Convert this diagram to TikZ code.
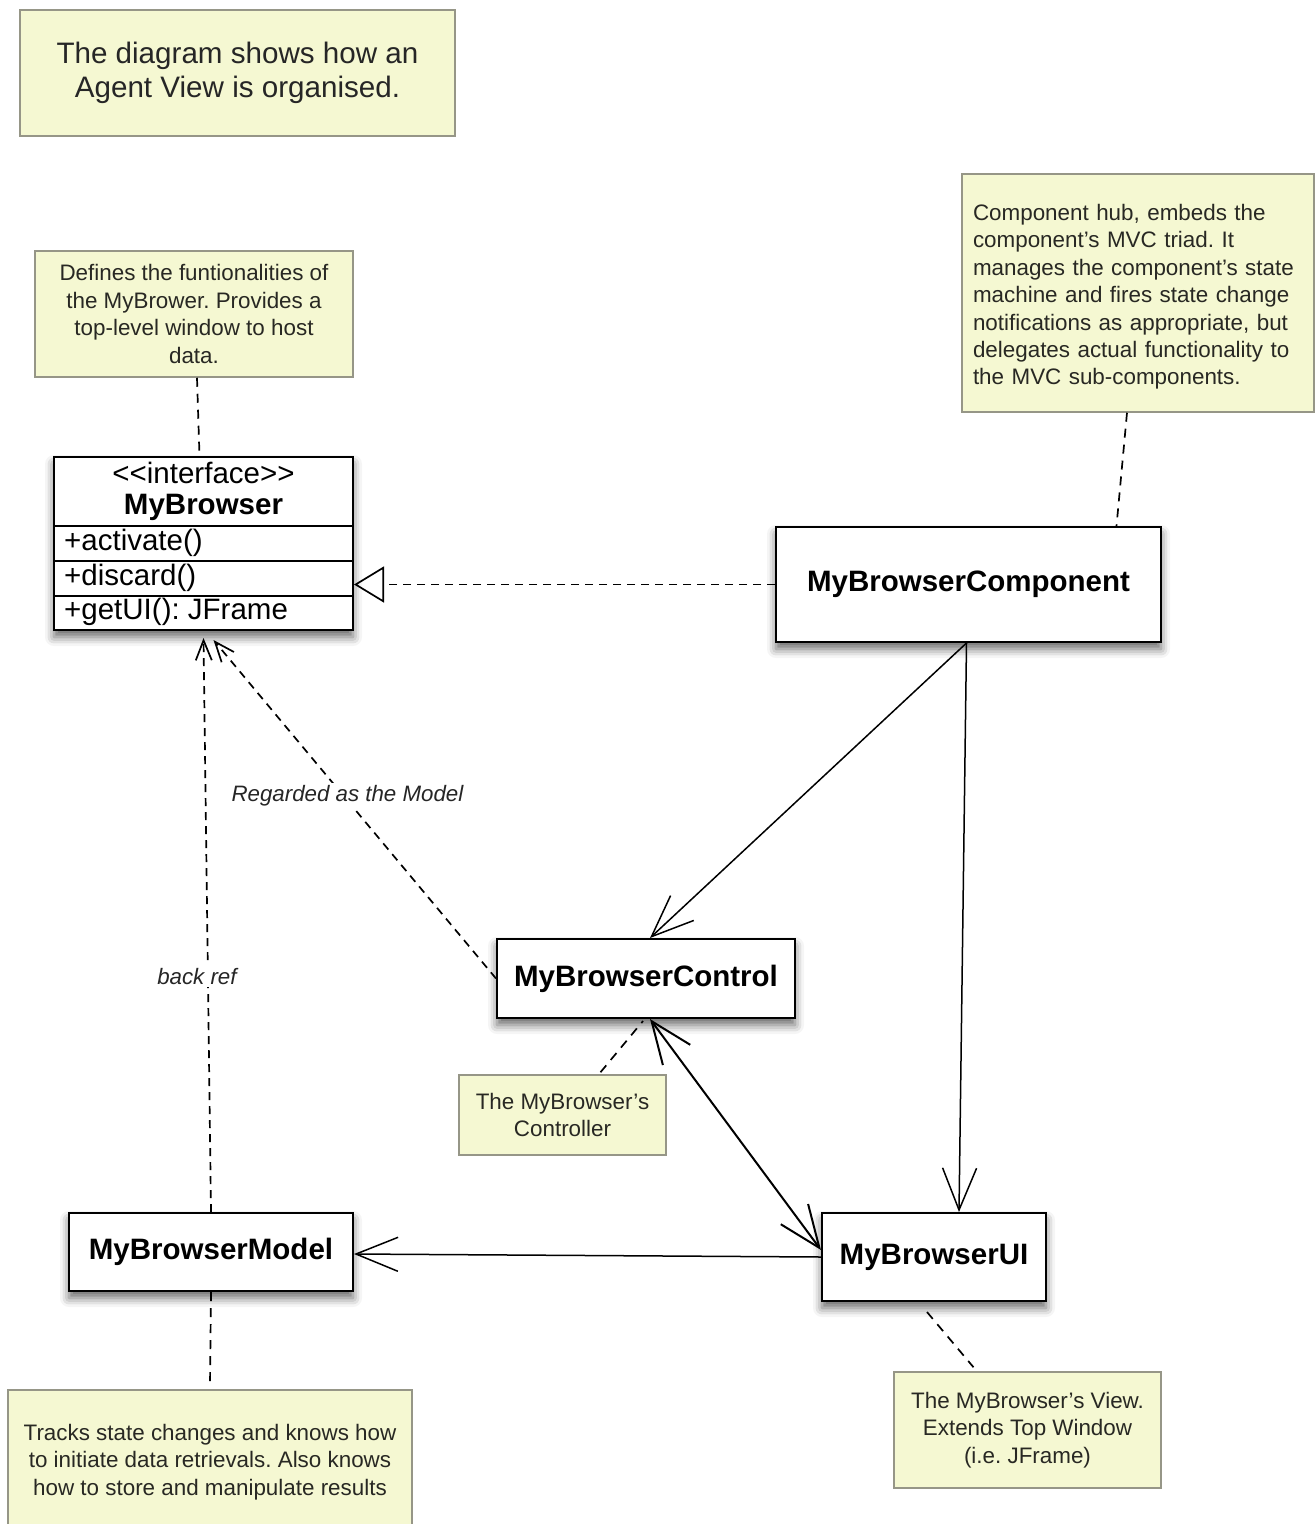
\documentclass[tikz,border=0pt]{standalone}
\usepackage{fontspec}
\setmainfont{Liberation Sans}
\usetikzlibrary{arrows.meta,shadows.blur}
\definecolor{notefill}{RGB}{245,248,210}
\definecolor{noteline}{RGB}{150,150,135}
\definecolor{notetext}{RGB}{40,40,35}
\frenchspacing
\tikzset{
  note/.style={draw=noteline, line width=1.5pt, fill=notefill, text=notetext,
    font=\fontsize{22.4}{27.4}\selectfont, align=center, inner sep=0pt},
  notetxt/.style={text=notetext, font=\fontsize{22.4}{27.4}\selectfont, inner sep=0pt},
  titlenote/.style={note, font=\fontsize{29.6}{34}\selectfont, text=black!85},
  boxshadow/.style={blur shadow={shadow xshift=0pt, shadow yshift=-7pt,
    shadow blur radius=9pt, shadow opacity=60}},
  cls/.style={draw=black, line width=2pt, fill=white, boxshadow,
    font=\bfseries\fontsize{29.5}{34}\selectfont, inner sep=0pt},
  member/.style={font=\fontsize{29.5}{34}\selectfont, anchor=west, inner sep=0pt},
  assoc/.style={line width=1.5pt, -{Straight Barb[length=42pt,width=34pt]}},
  bothassoc/.style={line width=2pt, {Straight Barb[length=42pt,width=34pt]}-{Straight Barb[length=42pt,width=34pt]}},
  dep/.style={line width=1.7pt, dash pattern=on 8pt off 6pt, -{Straight Barb[length=20pt,width=16pt]}},
  real/.style={line width=1.7pt, dash pattern=on 8pt off 6pt, -{Triangle[open,length=30pt,width=36pt]}},
  noteline/.style={line width=1.7pt, dash pattern=on 9pt off 7pt},
  lbl/.style={font=\itshape\fontsize{22.3}{26}\selectfont, fill=white, inner sep=2pt, text=black!85}
}
\begin{document}
\begin{tikzpicture}[x=1pt,y=-1pt]
\useasboundingbox (0,0) rectangle (1316,1524);

% notes
\node[titlenote, minimum width=435pt, minimum height=126pt] (title) at (237.5,73)
  {The diagram shows how an\\Agent View is organised.};
\node[note, minimum width=318pt, minimum height=126pt] (ifnote) at (194,314)
  {Defines the funtionalities of\\the MyBrower. Provides a\\top-level window to host\\data.};
\node[note, minimum width=352pt, minimum height=238pt] (compnote) at (1138,293) {};
\node[notetxt, text width=330pt, align=left] (compnotetext) at (1138,297)
  {Component hub, embeds the\\component's MVC triad. It\\manages the component's state\\machine and fires state change\\notifications as appropriate, but\\delegates actual functionality to\\the MVC sub-components.};
\node[note, minimum width=207pt, minimum height=80pt] (ctrlnote) at (562.5,1115)
  {The MyBrowser's\\Controller};
\node[note, minimum width=267pt, minimum height=116pt] (uinote) at (1027.5,1430)
  {The MyBrowser's View.\\Extends Top Window\\(i.e. JFrame)};
\node[note, minimum width=404pt, minimum height=144pt] (modelnote) at (210,1462)
  {Tracks state changes and knows how\\to initiate data retrievals. Also knows\\how to store and manipulate results};

% interface class
\node[cls, minimum width=299pt, minimum height=173pt] (iface) at (203.5,543.5) {};
\draw[line width=1.5pt] (54,526) -- (353,526);
\draw[line width=1.5pt] (54,561) -- (353,561);
\draw[line width=1.5pt] (54,596) -- (353,596);
\node[font=\fontsize{29.5}{34}\selectfont, inner sep=0pt] (stereo) at (203.5,473) {{<}{<}interface{>}{>}};
\node[font=\bfseries\fontsize{29.5}{34}\selectfont, inner sep=0pt] (ifname) at (203.5,507) {MyBrowser};
\node[member] (m1) at (64,543) {+activate()};
\node[member] (m2) at (64,578) {+discard()};
\node[member] (m3) at (64,612) {+getUI(): JFrame};

% classes
\node[cls, minimum width=385pt, minimum height=115pt] (comp) at (968.5,584.5) {MyBrowserComponent};
\node[cls, minimum width=298pt, minimum height=79pt] (ctrl) at (646,978.5) {MyBrowserControl};
\node[cls, minimum width=224pt, minimum height=88pt] (ui) at (934,1257) {MyBrowserUI};
\node[cls, minimum width=284pt, minimum height=78pt] (model) at (211,1252) {MyBrowserModel};

% note anchors
\draw[noteline] ([xshift=3pt]ifnote.south) -- ([xshift=-4pt]iface.north);
\draw[noteline] ([xshift=-11pt]compnote.south) -- ([xshift=148pt]comp.north);
\draw[noteline] ([xshift=38pt,yshift=2pt]ctrlnote.north) -- ([xshift=-3pt,yshift=-2pt]ctrl.south);
\draw[noteline] ([xshift=-7pt,yshift=-10pt]ui.south) -- ([xshift=-54pt,yshift=4pt]uinote.north);
\draw[noteline] (model.south) -- ([yshift=4pt]modelnote.north);

% relations
\draw[real] (comp.west) -- (comp.west -| iface.east);
\draw[assoc] ([xshift=-2pt]comp.south) -- ([xshift=4pt]ctrl.north);
\draw[assoc] ([xshift=-2pt]comp.south) -- ([xshift=25pt]ui.north);
\draw[bothassoc] ([xshift=4pt]ctrl.south) -- ([yshift=7pt]ui.west);
\draw[assoc] (ui.west) -- ([yshift=-2pt]model.east);
\draw[dep] (model.north) -- node[lbl, pos=0.41, xshift=-11pt] (backref) {back ref} ([yshift=-7pt]iface.south);
\draw[dep] (ctrl.west) -- node[lbl, pos=0.54, xshift=4pt] (regarded) {Regarded as the Model} ([xshift=10pt,yshift=-9pt]iface.south);
\end{tikzpicture}
\end{document}
